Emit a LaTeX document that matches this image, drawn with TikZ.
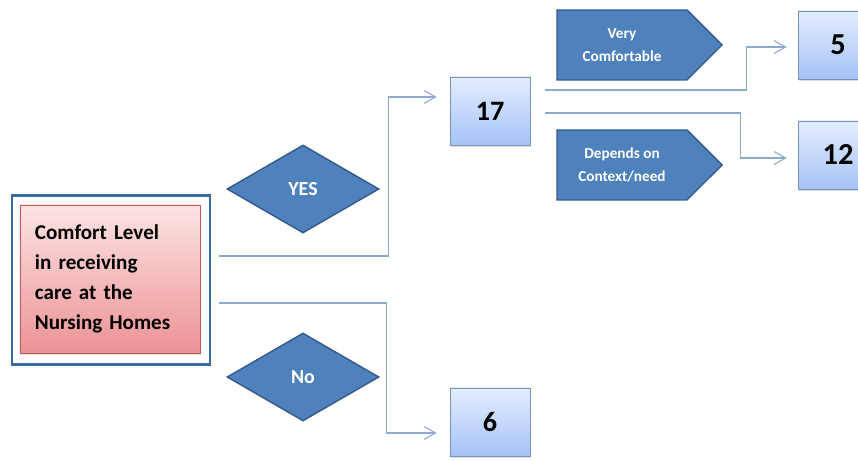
\documentclass[tikz,border=0pt]{standalone}
\usepackage{fontspec}
\setmainfont{Carlito}
\usetikzlibrary{shapes.geometric, shapes.symbols, arrows.meta, shadows}
\definecolor{frameblue}{RGB}{58,105,170}
\definecolor{pinktop}{RGB}{252,228,228}
\definecolor{pinkbottom}{RGB}{236,146,148}
\definecolor{pinkedge}{RGB}{192,90,88}
\definecolor{boxtop}{RGB}{228,237,255}
\definecolor{boxbottom}{RGB}{165,195,245}
\definecolor{boxedge}{RGB}{120,145,190}
\definecolor{shapeblue}{RGB}{79,129,189}
\definecolor{shapeedge}{RGB}{52,90,138}
\definecolor{linkblue}{RGB}{140,170,205}

\begin{document}
\begin{tikzpicture}[x=0.03cm, y=-0.03cm, font=\bfseries]
  \tikzset{
    number_box/.style args={#1}{
      rectangle, draw=boxedge, top color=boxtop, bottom color=boxbottom, thin,
      minimum width=2.4cm, minimum height=2.04cm, inner sep=0pt,
      font=\fontsize{#1}{#1}\selectfont\bfseries,
      drop shadow={opacity=0.25, shadow xshift=0.6pt, shadow yshift=-1.5pt}
    },
    choice_diamond/.style={
      diamond, draw=shapeedge, fill=shapeblue, line width=1.2pt, text=white,
      minimum width=4.56cm, minimum height=2.64cm, inner sep=0pt,
      font=\fontsize{17pt}{17pt}\selectfont\bfseries
    },
    answer_tag/.style={
      signal, signal to=east, signal pointer angle=90, draw=shapeedge, fill=shapeblue,
      line width=1.2pt, text=white, align=center, minimum width=4.95cm, minimum height=2.1cm,
      inner sep=0pt, font=\fontsize{13pt}{19pt}\selectfont\bfseries
    },
    connector/.style={draw=linkblue, line width=0.9pt, -{Straight Barb[length=10pt, width=11pt]}}
  }

  \useasboundingbox (0,0) rectangle (858,461);
  \clip (0,0) rectangle (858,461);

  % Draw the question box inside its blue frame
  \node[draw=frameblue, line width=2.5pt, fill=white, minimum width=5.94cm, minimum height=5.07cm,
        drop shadow={opacity=0.2, shadow xshift=0.6pt, shadow yshift=-1.5pt}] (frame) at (111,280) {};
  \node[draw=pinkedge, thin, top color=pinktop, bottom color=pinkbottom, minimum width=5.4cm,
        minimum height=4.44cm, text width=4.5cm, align=left, inner sep=0pt,
        font=\fontsize{18pt}{25.6pt}\selectfont\bfseries,
        drop shadow={opacity=0.25, shadow xshift=0.6pt, shadow yshift=-1.5pt}] (question) at (110,279)
        {Comfort Level\\in receiving\\care at the\\Nursing Homes};

  % Draw the two answers
  \node[choice_diamond] (yes) at (303,189) {YES};
  \node[choice_diamond] (no) at (303,377) {No};

  % Draw the count boxes
  \node[number_box=24pt] (n17) at (490,111) {17};
  \node[number_box=24pt] (n6) at (490,422) {6};
  \node[number_box=26pt] (n5) at (838,45) {5};
  \node[number_box=26pt] (n12) at (838,155) {12};

  % Draw the tags of the YES branch
  \node[answer_tag] (very) at (622,45) {Very\\Comfortable};
  \node[answer_tag] (depends) at (622,165) {Depends on\\Context/need};

  % Draw the elbow connectors
  \coordinate (yes_start) at ([shift={(8,-24)}]frame.east);
  \coordinate (no_start) at ([shift={(8,23)}]frame.east);
  \coordinate (up_start) at ([shift={(15,-21)}]n17.east);
  \coordinate (down_start) at ([shift={(15,2)}]n17.east);
  \draw[connector] (yes_start) -- ++(169,0) |- ([shift={(-13,-14)}]n17.west);
  \draw[connector] (no_start) -- ++(167,0) |- ([shift={(-13,11)}]n6.west);
  \draw[connector] (up_start) -- ++(201,0) |- ([shift={(-11,2)}]n5.west);
  \draw[connector] (down_start) -- ++(195,0) |- ([shift={(-11,3)}]n12.west);
\end{tikzpicture}
\end{document}
